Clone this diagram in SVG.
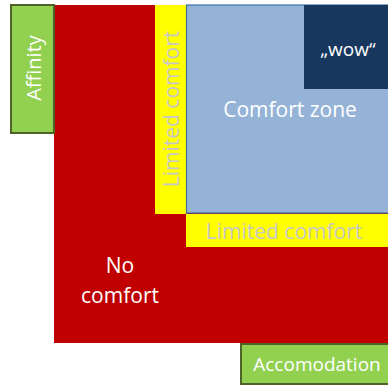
<svg xmlns="http://www.w3.org/2000/svg" width="388" height="385" viewBox="0 0 388 385">
<style>
text{font-family:"Open Sans","Liberation Sans",sans-serif;fill:#fff;text-anchor:middle}
.lim{fill:#c8c8c8}
.green{fill:#92d050;stroke:#4f6228;stroke-width:2}
</style>
<rect width="388" height="385" fill="#fff"/>
<g id="no-comfort">
<rect x="54" y="5" width="334" height="338" fill="#c00000"/>
<text x="120" y="273" font-size="21">No</text>
<text x="120" y="303" font-size="21">comfort</text>
</g>
<g id="limited-vertical">
<rect x="155" y="5" width="31" height="209" fill="#ffff00"/>
<text class="lim" transform="translate(179,109) rotate(-90)" font-size="21">Limited comfort</text>
</g>
<g id="limited-horizontal">
<rect x="186" y="214" width="202" height="33" fill="#ffff00"/>
<text class="lim" x="284" y="239" font-size="21">Limited comfort</text>
</g>
<g id="comfort-zone">
<rect x="186.5" y="5" width="203" height="208" fill="#95b3d7" stroke="#41719c" stroke-width="1.2"/>
<text x="290" y="117" font-size="21">Comfort zone</text>
</g>
<g id="wow">
<rect x="304" y="5" width="84" height="84" fill="#17375e"/>
<text x="348" y="56" font-size="19">„wow“</text>
</g>
<g id="affinity">
<rect class="green" x="11" y="5" width="43" height="128"/>
<text transform="translate(41,68) rotate(-90)" font-size="20">Affinity</text>
</g>
<g id="accomodation">
<rect class="green" x="241" y="344" width="148" height="40"/>
<text x="317" y="371" font-size="19">Accomodation</text>
</g>
<g id="connectors"/>
</svg>
